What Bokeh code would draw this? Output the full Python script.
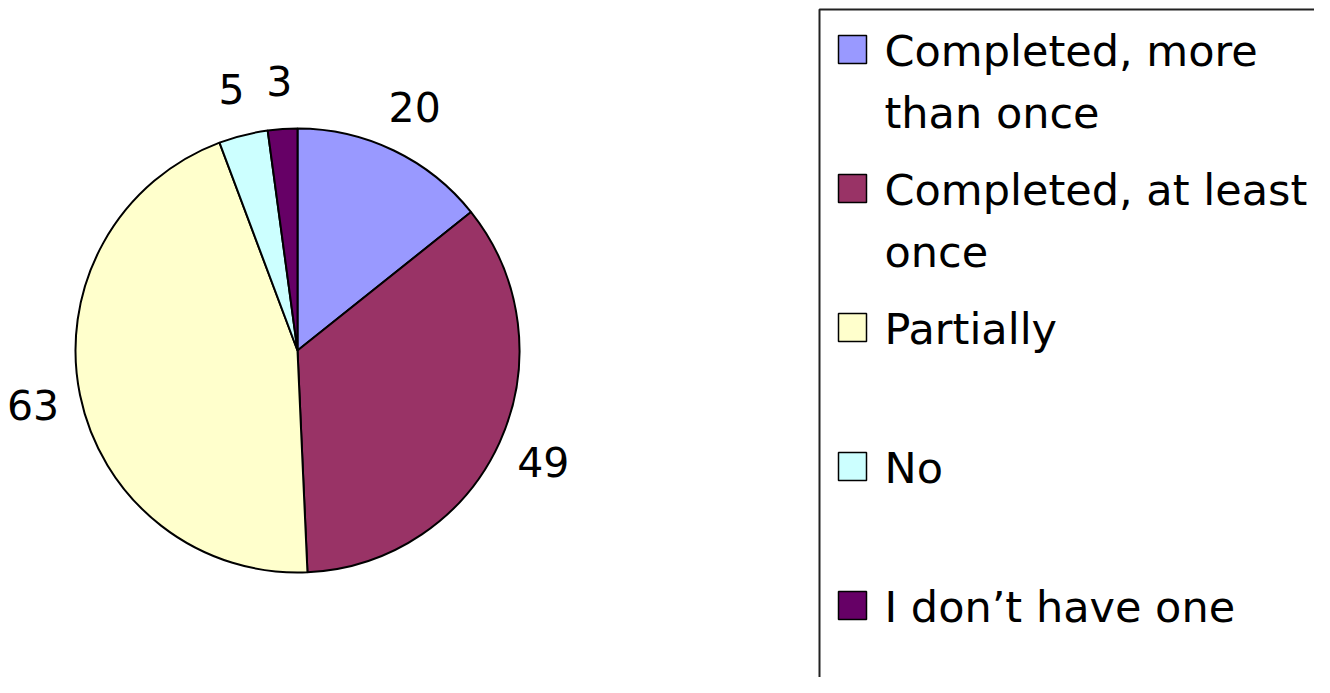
import math
import textwrap
from bokeh.plotting import figure
from bokeh.models import ColumnDataSource, Range1d
from bokeh.core.properties import value
from bokeh.embed import file_html
from bokeh.resources import INLINE

# ---- data ----
categories = ["Completed, more than once", "Completed, at least once",
              "Partially", "No", "I don\u2019t have one"]
counts = [20, 49, 63, 5, 3]
colors = ["#9999FF", "#993366", "#FFFFCC", "#CCFFFF", "#660066"]

# ---- layout ----
W, H = 1314, 677
CX, CY, R = 297, 327, 222
LABEL_R = 270
FONT = value("DejaVu Sans")
LABEL_FS = "41px"
LEGEND_FS = "43px"

p = figure(width=W, height=H, output_backend="svg", toolbar_location=None,
           x_range=Range1d(0, W), y_range=Range1d(0, H), min_border=0)
p.axis.visible = False
p.grid.visible = False
p.outline_line_color = None
p.background_fill_color = "white"

total = sum(counts)
starts, ends, mids = [], [], []
cum = 0
for c in counts:
    a0 = math.pi / 2 - 2 * math.pi * cum / total
    cum += c
    a1 = math.pi / 2 - 2 * math.pi * cum / total
    starts.append(a0)
    ends.append(a1)
    mids.append((a0 + a1) / 2)

src = ColumnDataSource(dict(start=starts, end=ends, color=colors,
                            x=[CX] * len(counts), y=[CY] * len(counts)))
p.wedge(x="x", y="y", radius=R, start_angle="start", end_angle="end",
        direction="clock", fill_color="color", line_color="black",
        line_width=2, source=src)

lab = ColumnDataSource(dict(
    x=[CX + LABEL_R * math.cos(m) for m in mids],
    y=[CY + LABEL_R * math.sin(m) for m in mids],
    t=[str(c) for c in counts]))
p.text(x="x", y="y", text="t", source=lab, text_font=FONT,
       text_font_size=LABEL_FS, text_align="center", text_baseline="middle",
       text_color="black")

# ---- legend ----
BOX_L, BOX_T, BOX_R = 819, 668, 1318
p.quad(left=BOX_L, right=BOX_R, top=BOX_T, bottom=-50, fill_color="white",
       line_color="#222222", line_width=2)

SQ_X, SQ, TX = 852, 28, 884
FIRST_BASE, ENTRY_STEP, LINE_STEP = 614, 139, 62
TEXT_DY = 13
sq_x, sq_y, sq_c, tx, ty, tt = [], [], [], [], [], []
for i, (cat, col) in enumerate(zip(categories, colors)):
    base = FIRST_BASE - i * ENTRY_STEP
    sq_x.append(SQ_X)
    sq_y.append(base + 14)
    sq_c.append(col)
    for j, line in enumerate(textwrap.wrap(cat, width=19)):
        tx.append(TX)
        ty.append(base + TEXT_DY - j * LINE_STEP)
        tt.append(line)

p.rect(x=sq_x, y=sq_y, width=SQ, height=SQ, fill_color=sq_c,
       line_color="black", line_width=1.5)
p.text(x=tx, y=ty, text=tt, text_font=FONT, text_font_size=LEGEND_FS,
       text_align="left", text_baseline="alphabetic", text_color="black")

open("out.html", "w").write(file_html(p, INLINE))
